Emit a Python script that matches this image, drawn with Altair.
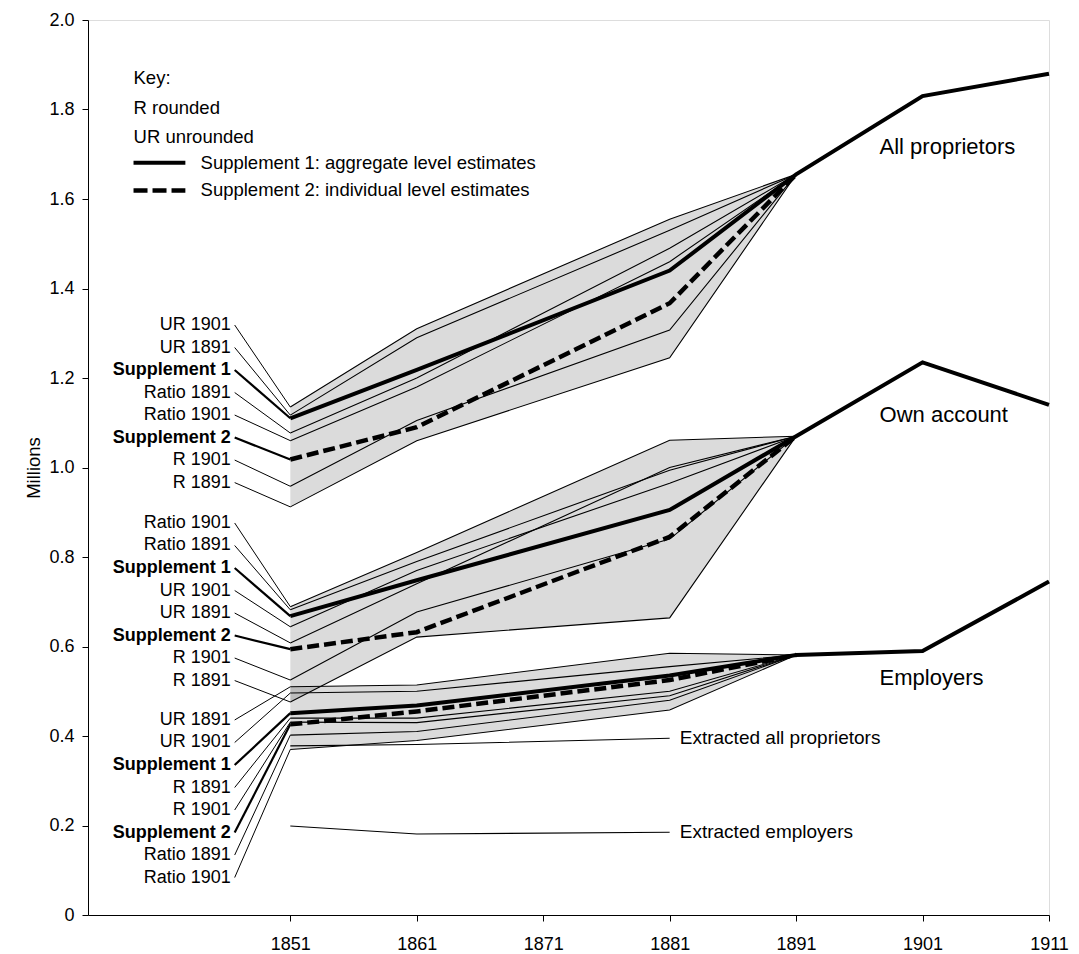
import altair as alt
import pandas as pd

# ---------------- data ----------------
years = [1851, 1861, 1881, 1891]
tail_years = [1901, 1911]

all_proprietors = {
    "UR 1901": [1.135, 1.31, 1.555, 1.655],
    "UR 1891": [1.117, 1.29, 1.53, 1.655],
    "Supplement 1": [1.11, 1.218, 1.44, 1.655],
    "Ratio 1891": [1.077, 1.20, 1.49, 1.655],
    "Ratio 1901": [1.06, 1.18, 1.46, 1.655],
    "Supplement 2": [1.018, 1.09, 1.367, 1.655],
    "R 1901": [0.958, 1.105, 1.307, 1.655],
    "R 1891": [0.912, 1.06, 1.245, 1.655],
}
all_proprietors_tail = [1.83, 1.88]

own_account = {
    "Ratio 1901": [0.689, 0.81, 1.061, 1.07],
    "Ratio 1891": [0.682, 0.79, 0.994, 1.07],
    "Supplement 1": [0.668, 0.748, 0.905, 1.07],
    "UR 1901": [0.644, 0.77, 0.965, 1.07],
    "UR 1891": [0.608, 0.74, 1.00, 1.07],
    "Supplement 2": [0.594, 0.632, 0.845, 1.07],
    "R 1901": [0.525, 0.677, 0.84, 1.07],
    "R 1891": [0.476, 0.621, 0.664, 1.07],
}
own_account_tail = [1.235, 1.14]

employers = {
    "UR 1891": [0.51, 0.514, 0.585, 0.581],
    "UR 1901": [0.496, 0.50, 0.555, 0.581],
    "Supplement 1": [0.451, 0.468, 0.535, 0.581],
    "R 1891": [0.44, 0.44, 0.50, 0.581],
    "R 1901": [0.431, 0.43, 0.49, 0.581],
    "Supplement 2": [0.426, 0.455, 0.525, 0.581],
    "Ratio 1891": [0.402, 0.41, 0.48, 0.581],
    "Ratio 1901": [0.37, 0.39, 0.458, 0.581],
}
employers_tail = [0.59, 0.745]

extracted_years = [1851, 1861, 1881]
extracted_all = [0.378, 0.381, 0.395]
extracted_emp = [0.199, 0.181, 0.185]

group_names = ["All proprietors", "Own account", "Employers"]
ap_label_order = ["UR 1901", "UR 1891", "Supplement 1", "Ratio 1891", "Ratio 1901", "Supplement 2", "R 1901", "R 1891"]
oa_label_order = ["Ratio 1901", "Ratio 1891", "Supplement 1", "UR 1901", "UR 1891", "Supplement 2", "R 1901", "R 1891"]
em_label_order = ["UR 1891", "UR 1901", "Supplement 1", "R 1891", "R 1901", "Supplement 2", "Ratio 1891", "Ratio 1901"]

key_lines = ["Key:", "R rounded", "UR unrounded"]
key_series = ["Supplement 1: aggregate level estimates", "Supplement 2: individual level estimates"]
extracted_labels = ["Extracted all proprietors", "Extracted employers"]

# ---------------- layout (not data) ----------------
FONT = "Liberation Sans"
FS_TICK = 18
FS_LAB = 18
FS_KEY = 18.5
FS_GROUP = 22
FS_EXT = 19
label_top = [1.3184, 0.876, 0.4358]
label_step = 0.0503
label_x = 1846.3
conn_x = 1846.6
group_label_x = 1897.6
group_label_y = [1.716, 1.117, 0.53]
extracted_label_x = 1881.8
key_x = 1838.6
key_y = [1.870, 1.803, 1.739]
key_series_y = [1.681, 1.619]
key_line_x2 = 1842.7
key_text_x = 1843.9

groups = [all_proprietors, own_account, employers]
tails = [all_proprietors_tail, own_account_tail, employers_tail]
orders = [ap_label_order, oa_label_order, em_label_order]


def style_of(name):
    if name == "Supplement 1":
        return "sup1"
    if name == "Supplement 2":
        return "sup2"
    return "thin"


rows = []
for g, gd, tl in zip(group_names, groups, tails):
    for name, vals in gd.items():
        for yr, v in zip(years, vals):
            rows.append({"group": g, "series": name, "year": yr, "value": v, "style": style_of(name)})
        if name == "Supplement 1":
            for yr, v in zip(tail_years, tl):
                rows.append({"group": g, "series": name, "year": yr, "value": v, "style": "sup1"})
lines_df = pd.DataFrame(rows)

area_rows = []
for g, gd in zip(group_names, groups):
    for name, vals in gd.items():
        for yr, v in zip(years, vals):
            area_rows.append({"group": g, "year": yr, "value": v})
area_df = pd.DataFrame(area_rows)

ext_rows = []
for lab, vals in zip(extracted_labels, [extracted_all, extracted_emp]):
    for yr, v in zip(extracted_years, vals):
        ext_rows.append({"series": lab, "year": yr, "value": v})
ext_df = pd.DataFrame(ext_rows)

lab_rows = []
for gi, (g, gd, order) in enumerate(zip(group_names, groups, orders)):
    for i, name in enumerate(order):
        lab_rows.append({
            "label": name,
            "ly": label_top[gi] - i * label_step,
            "lx": label_x,
            "cx": conn_x,
            "ex": years[0],
            "ey": gd[name][0],
            "bold": name.startswith("Supplement"),
        })
lab_df = pd.DataFrame(lab_rows)

glab_df = pd.DataFrame({"text": group_names, "x": [group_label_x] * 3, "y": group_label_y})
elab_df = pd.DataFrame({"text": extracted_labels, "x": [extracted_label_x] * 2,
                        "y": [extracted_all[-1], extracted_emp[-1]]})
key_df = pd.DataFrame({"text": key_lines, "x": [key_x] * 3, "y": key_y})
keys_df = pd.DataFrame({"text": key_series, "x": [key_text_x] * 2, "x1": [key_x] * 2,
                        "x2": [key_line_x2] * 2, "y": key_series_y, "style": ["sup1", "sup2"]})

# ---------------- scales & axes ----------------
xscale = alt.Scale(domain=[1835, 1911], nice=False, zero=False)
yscale = alt.Scale(domain=[0, 2], nice=False, zero=True)
xaxis = alt.Axis(values=[1851, 1861, 1871, 1881, 1891, 1901, 1911], format="d", grid=False,
                 tickSize=6, labelPadding=14, labelFont=FONT, labelFontSize=FS_TICK, labelColor="black",
                 domainColor="black", tickColor="black", labelFlush=False)
yaxis = alt.Axis(values=[0, 0.2, 0.4, 0.6, 0.8, 1.0, 1.2, 1.4, 1.6, 1.8, 2.0], grid=False,
                 labelExpr="datum.value == 0 ? '0' : format(datum.value, '.1f')",
                 tickSize=6, labelPadding=8, labelFont=FONT, labelFontSize=FS_TICK, labelColor="black",
                 domainColor="black", tickColor="black", titleFont=FONT, titleFontSize=18.5,
                 titleFontWeight="normal", titleColor="black", titlePadding=5)


def X(f):
    return alt.X(f, type="quantitative", scale=xscale, axis=xaxis, title=None)


def Y(f, **kw):
    return alt.Y(f, type="quantitative", scale=yscale, axis=yaxis, title="Millions", **kw)


area = alt.Chart(area_df).mark_area(color="black", opacity=0.14).encode(
    x=X("year"),
    y=Y("value", aggregate="min"),
    y2=alt.Y2("value", aggregate="max"),
    detail="group:N",
)

thin = alt.Chart(lines_df).transform_filter("datum.style == 'thin'").mark_line(
    color="black", strokeWidth=1.1).encode(x=X("year"), y=Y("value"), detail=["group:N", "series:N"])

sup1 = alt.Chart(lines_df).transform_filter("datum.style == 'sup1'").mark_line(
    color="black", strokeWidth=4).encode(x=X("year"), y=Y("value"), detail="group:N")

sup2 = alt.Chart(lines_df).transform_filter("datum.style == 'sup2'").mark_line(
    color="black", strokeWidth=4.5, strokeDash=[12, 5]).encode(x=X("year"), y=Y("value"), detail="group:N")

ext = alt.Chart(ext_df).mark_line(color="black", strokeWidth=1.1).encode(
    x=X("year"), y=Y("value"), detail="series:N")

conn_thin = alt.Chart(lab_df).transform_filter("!datum.bold").mark_rule(color="black", strokeWidth=1).encode(
    x=X("cx"), y=Y("ly"), x2="ex", y2="ey")
conn_bold = alt.Chart(lab_df).transform_filter("datum.bold").mark_rule(color="black", strokeWidth=2.2).encode(
    x=X("cx"), y=Y("ly"), x2="ex", y2="ey")

lab_norm = alt.Chart(lab_df).transform_filter("!datum.bold").mark_text(
    align="right", baseline="middle", font=FONT, fontSize=FS_LAB, color="black").encode(
    x=X("lx"), y=Y("ly"), text="label:N")
lab_bold = alt.Chart(lab_df).transform_filter("datum.bold").mark_text(
    align="right", baseline="middle", font=FONT, fontSize=FS_LAB, fontWeight="bold", color="black").encode(
    x=X("lx"), y=Y("ly"), text="label:N")

glab = alt.Chart(glab_df).mark_text(align="left", baseline="middle", font=FONT, fontSize=FS_GROUP,
                                    color="black").encode(x=X("x"), y=Y("y"), text="text:N")
elab = alt.Chart(elab_df).mark_text(align="left", baseline="middle", font=FONT, fontSize=FS_EXT,
                                    color="black").encode(x=X("x"), y=Y("y"), text="text:N")
keyt = alt.Chart(key_df).mark_text(align="left", baseline="middle", font=FONT, fontSize=FS_KEY,
                                   color="black").encode(x=X("x"), y=Y("y"), text="text:N")
keyst = alt.Chart(keys_df).mark_text(align="left", baseline="middle", font=FONT, fontSize=FS_KEY,
                                     color="black").encode(x=X("x"), y=Y("y"), text="text:N")
key_sol = alt.Chart(keys_df).transform_filter("datum.style == 'sup1'").mark_rule(
    color="black", strokeWidth=4).encode(x=X("x1"), x2="x2", y=Y("y"))
key_das = alt.Chart(keys_df).transform_filter("datum.style == 'sup2'").mark_rule(
    color="black", strokeWidth=4.5, strokeDash=[14, 5]).encode(x=X("x1"), x2="x2", y=Y("y"))

chart = alt.layer(
    area, thin, ext, sup2, sup1, conn_thin, conn_bold, lab_norm, lab_bold, glab, elab, keyt, keyst, key_sol, key_das
).properties(
    width=961, height=895,
    autosize=alt.AutoSizeParams(type="none"),
    padding={"left": 80, "top": 12, "right": 22, "bottom": 38},
).configure_view(stroke=None).configure(background="white")

chart.save("out.html", embed_options={"renderer": "svg", "actions": False})
